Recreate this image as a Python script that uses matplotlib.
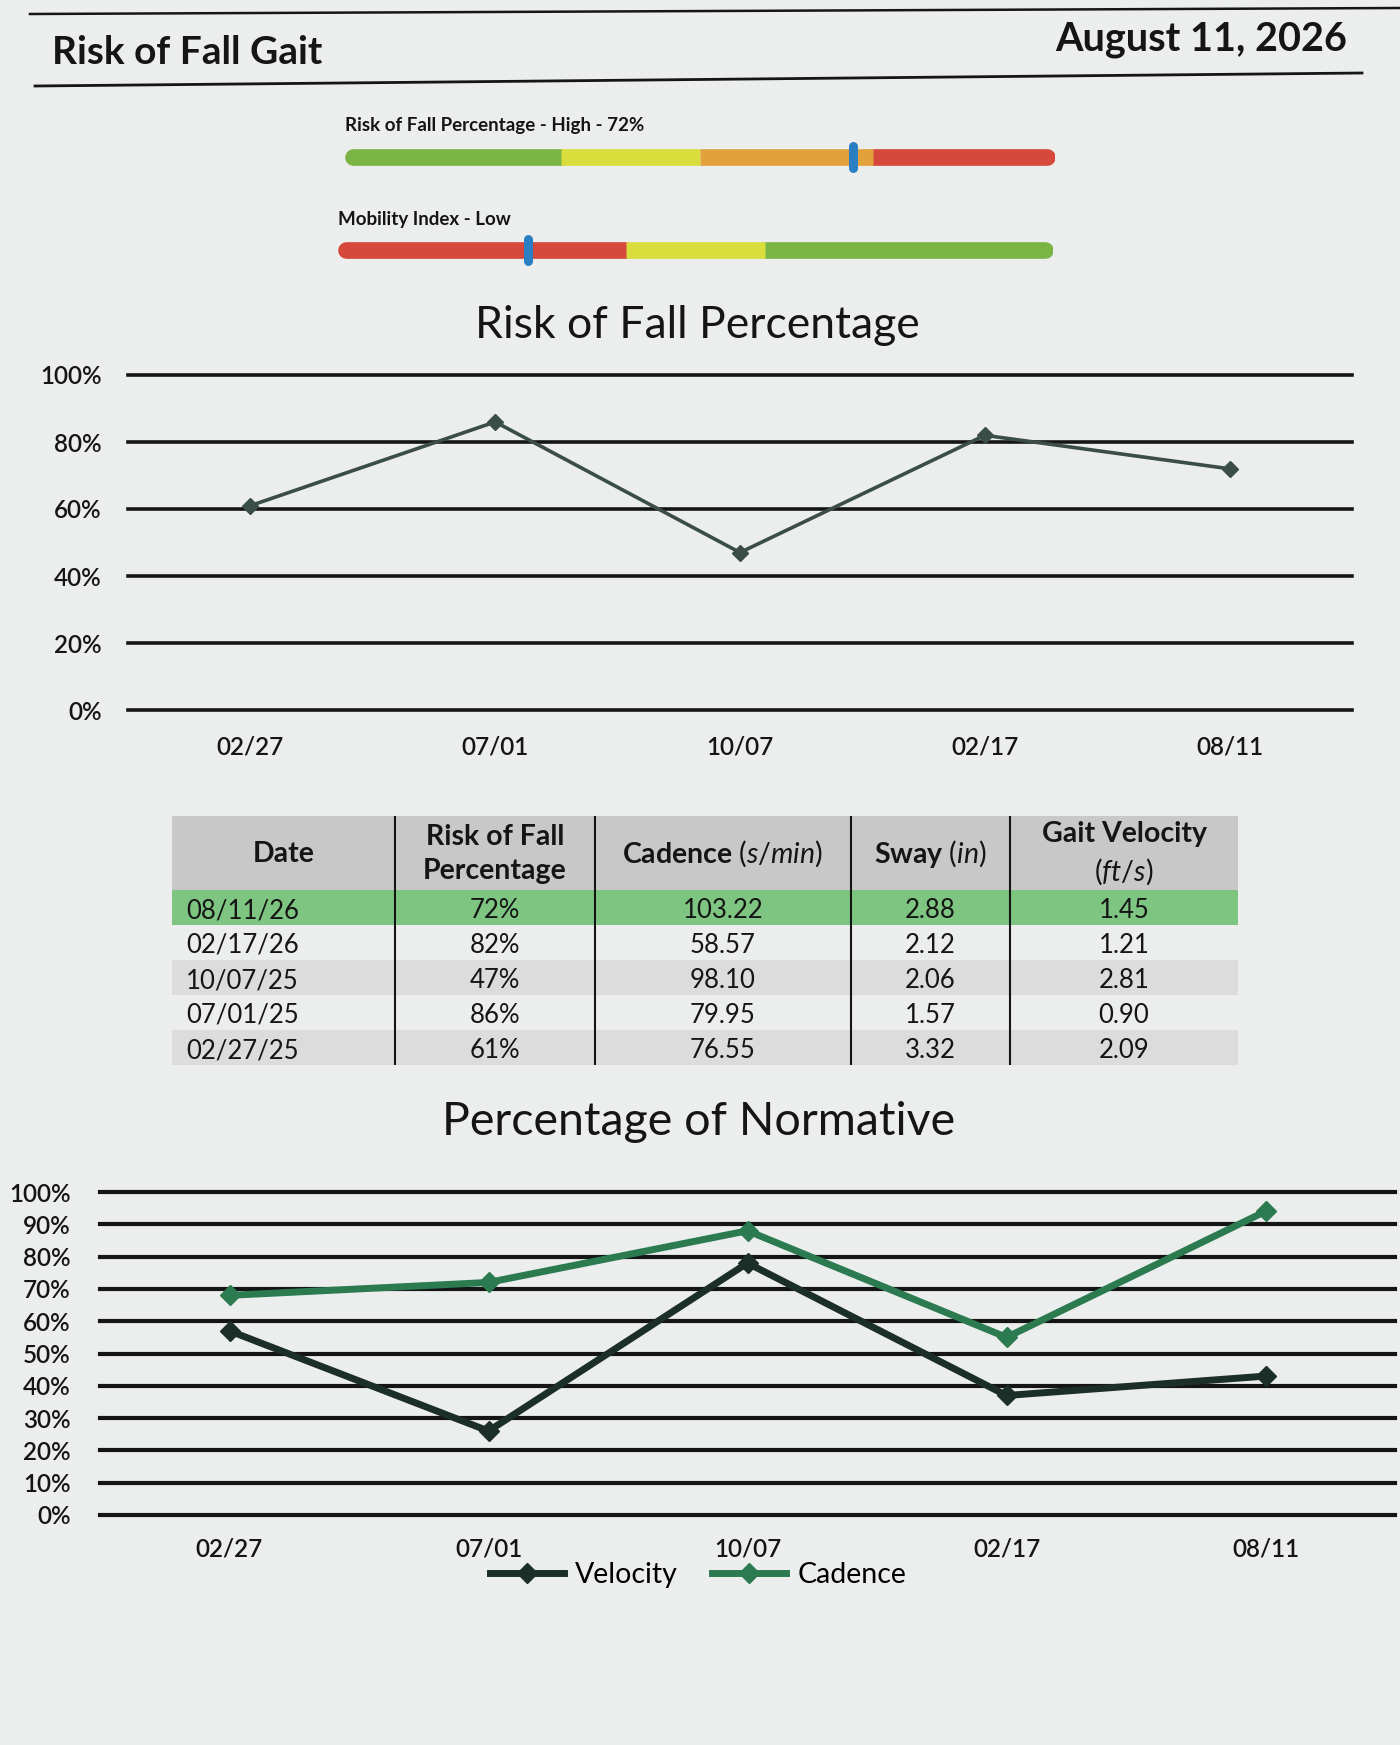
#!/usr/bin/env python3
"""Risk of fall gait report page: two gauges, two line charts and a table"""

import matplotlib.pyplot as plt
from matplotlib.lines import Line2D

plt.rcParams['font.family'] = ['Lato', 'DejaVu Sans']
plt.rcParams['mathtext.fontset'] = 'custom'
plt.rcParams['mathtext.rm'] = 'Lato'
plt.rcParams['mathtext.it'] = 'Lato:italic'

PAPER = '#eceeed'
INK = '#151515'
RISK_LINE = '#3b4d47'
VEL_COLOR = '#1c2e28'
CAD_COLOR = '#2b7a50'
GREEN = '#7ab444'
YELLOW = '#d9de3c'
ORANGE = '#e3a13b'
RED = '#d6483b'
BLUE = '#2a7fc3'

# ---- data ----
dates = ['02/27', '07/01', '10/07', '02/17', '08/11']
risk_pct = [61, 86, 47, 82, 72]
velocity_pct = [57, 26, 78, 37, 43]
cadence_pct = [68, 72, 88, 55, 94]

risk_bands = [0, 30, 50, 75, 100]
risk_band_colors = [GREEN, YELLOW, ORANGE, RED]
risk_level = 'High'
mobility_bands = [0, 40, 60, 100]
mobility_band_colors = [RED, YELLOW, GREEN]
mobility_level = 'Low'
mobility_value = 26

table_headers = ['Date', 'Risk of Fall\nPercentage', 'Cadence $\\mathit{(s/min)}$',
                 'Sway $\\mathit{(in)}$', 'Gait Velocity\n$\\mathit{(ft/s)}$']
table_dates = ['08/11/26', '02/17/26', '10/07/25', '07/01/25', '02/27/25']
table_risk = ['72%', '82%', '47%', '86%', '61%']
table_cadence = ['103.22', '58.57', '98.10', '79.95', '76.55']
table_sway = ['2.88', '2.12', '2.06', '1.57', '3.32']
table_velocity = ['1.45', '1.21', '2.81', '0.90', '2.09']

W, H = 1400, 1745
fig = plt.figure(figsize=(W / 100, H / 100), dpi=100, facecolor=PAPER)


def axes_px(left, top, right, bottom, **kw):
    """Add axes from pixel box (origin top-left)"""
    return fig.add_axes([left / W, 1 - bottom / H, (right - left) / W, (bottom - top) / H], **kw)


def hline_px(x0, x1, y0, y1, lw=2.0):
    fig.add_artist(Line2D([x0 / W, x1 / W], [1 - y0 / H, 1 - y1 / H],
                          color=INK, linewidth=lw, transform=fig.transFigure))


# ---- header ----
hline_px(30, 1400, 14, 8, lw=1.8)
hline_px(35, 1362, 86, 73, lw=2.0)
fig.text(52 / W, 1 - 52 / H, 'Risk of Fall Gait', fontsize=28, fontweight='bold',
         color=INK, ha='left', va='center')
fig.text(1347 / W, 1 - 40 / H, 'August 11, 2026', fontsize=28.5, fontweight='bold',
         color=INK, ha='right', va='center')


# ---- gauges ----
def draw_gauge(left, right, yc, bands, colors, value, label):
    ax = axes_px(left, yc - 25, right, yc + 25)
    ax.set_xlim(-1.2, 101.2)
    ax.set_ylim(-25, 25)
    ax.axis('off')
    lw = 12
    # end segments first with round caps, inner ones on top with butt caps
    order = [0, len(colors) - 1] + list(range(1, len(colors) - 1))
    for i in order:
        cap = 'round' if i in (0, len(colors) - 1) else 'butt'
        ax.plot([bands[i], bands[i + 1]], [0, 0], color=colors[i], linewidth=lw,
                solid_capstyle=cap)
    ax.plot([value, value], [-11, 11], color=BLUE, linewidth=6.5, solid_capstyle='round')
    fig.text(left / W, 1 - (yc - 31) / H, label, fontsize=13.5, fontweight='bold',
             color=INK, ha='left', va='center')


draw_gauge(345, 1055, 157, risk_bands, risk_band_colors, risk_pct[-1],
           f'Risk of Fall Percentage - {risk_level} - {risk_pct[-1]}%')
draw_gauge(338, 1053, 250, mobility_bands, mobility_band_colors, mobility_value,
           f'Mobility Index - {mobility_level}')


def style_line_axes(ax, yticks, grid_lw, ypad, xpad, fs):
    ax.set_facecolor('none')
    ax.set_xlim(-0.5, len(dates) - 0.5)
    ax.set_ylim(0, 100)
    ax.set_yticks(yticks)
    ax.set_yticklabels([f'{t}%' for t in yticks], fontweight='semibold')
    ax.set_xticks(range(len(dates)))
    ax.set_xticklabels(dates, fontweight='semibold')
    for s in ax.spines.values():
        s.set_visible(False)
    ax.tick_params(axis='y', length=0, pad=ypad, labelsize=fs, labelcolor=INK)
    ax.tick_params(axis='x', length=0, pad=xpad, labelsize=fs, labelcolor=INK)
    ax.grid(axis='y', color=INK, linewidth=grid_lw)
    ax.grid(axis='x', visible=False)
    ax.set_axisbelow(True)
    for gl in ax.get_ygridlines():
        gl.set_clip_on(False)


# ---- chart 1: risk of fall ----
fig.text(697 / W, 1 - 326 / H, 'Risk of Fall Percentage', fontsize=32, color=INK,
         ha='center', va='center')
ax1 = axes_px(128, 375, 1352, 710)
x = list(range(len(dates)))
ax1.plot(x, risk_pct, color=RISK_LINE, linewidth=2.6, marker='D', markersize=8,
         clip_on=False, zorder=3)
style_line_axes(ax1, [0, 20, 40, 60, 80, 100], 2.6, 19, 18, 17.5)

# ---- table ----
col_w = [223, 200, 256, 159, 228]
head_h, row_h = 74, 35
n_rows = len(table_dates)
tab_w = sum(col_w)
tab_h = head_h + n_rows * row_h
axt = axes_px(172, 816, 172 + tab_w, 816 + tab_h)
axt.set_xlim(0, tab_w)
axt.set_ylim(tab_h, 0)
axt.axis('off')

axt.axhspan(0, head_h, color='#c8c8c8', lw=0)
row_fill = ['#7ec581', 'none', '#dcdcdc', 'none', '#dcdcdc']
for r in range(n_rows):
    if row_fill[r] != 'none':
        axt.axhspan(head_h + r * row_h, head_h + (r + 1) * row_h, color=row_fill[r], lw=0)

edges = [0]
for w in col_w:
    edges.append(edges[-1] + w)
axt.vlines(edges[1:-1], 0, tab_h, color=INK, linewidth=1.5)

for c, hdr in enumerate(table_headers):
    axt.text((edges[c] + edges[c + 1]) / 2, head_h / 2 + 1, hdr, fontsize=20.5,
             fontweight='bold', color=INK, ha='center', va='center', linespacing=1.35)

columns = [table_dates, table_risk, table_cadence, table_sway, table_velocity]
for c, col in enumerate(columns):
    for r, val in enumerate(col):
        yc = head_h + (r + 0.5) * row_h + 3
        if c == 0:
            axt.text(edges[c] + 14, yc, val, fontsize=18.5, color=INK, ha='left', va='center')
        else:
            axt.text((edges[c] + edges[c + 1]) / 2, yc, val, fontsize=18.5, color=INK,
                     ha='center', va='center')

# ---- chart 2: percentage of normative ----
fig.text(699 / W, 1 - 1122 / H, 'Percentage of Normative', fontsize=33.5, color=INK,
         ha='center', va='center')
ax2 = axes_px(100, 1192, 1395, 1515)
ax2.plot(x, velocity_pct, color=VEL_COLOR, linewidth=5, marker='D', markersize=10,
         clip_on=False, zorder=3, label='Velocity')
ax2.plot(x, cadence_pct, color=CAD_COLOR, linewidth=5, marker='D', markersize=10,
         clip_on=False, zorder=3, label='Cadence')
style_line_axes(ax2, list(range(0, 101, 10)), 3.0, 21, 16, 17.5)

fig.legend(loc='center', bbox_to_anchor=(698 / W, 1 - 1575 / H), ncol=2, frameon=False,
           fontsize=20.5, handlelength=2.6, columnspacing=1.2, handletextpad=0.4)

fig.savefig('out.png', dpi=100, facecolor=PAPER)
